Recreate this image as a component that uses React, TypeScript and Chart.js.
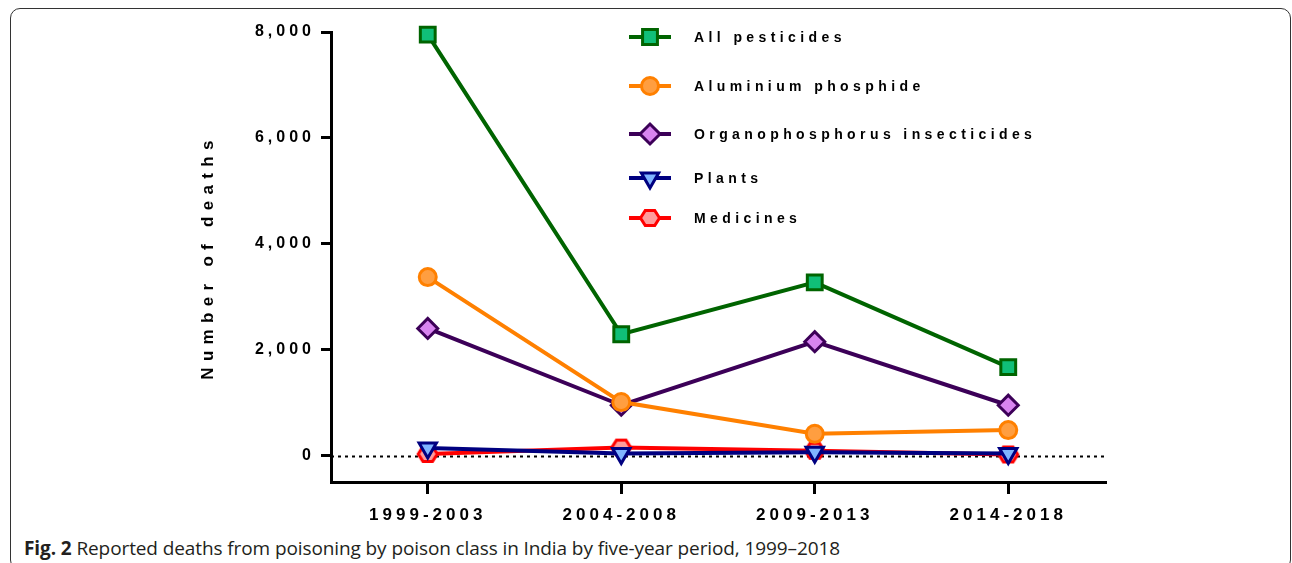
import React, { useEffect, useRef } from "react";
import { Chart, registerables } from "chart.js";
import { drawPoint } from "chart.js/helpers";

Chart.register(...registerables);

const periods = ["1999-2003", "2004-2008", "2009-2013", "2014-2018"];
const allPesticides = [7950, 2290, 3270, 1670];
const aluminiumPhosphide = [3370, 1010, 410, 480];
const organophosphorus = [2400, 950, 2150, 950];
const plants = [140, 40, 60, 40];
const medicines = [30, 150, 90, 20];
const yTickValues = [0, 2000, 4000, 6000, 8000];
const yAxisTitle = "Number of deaths";
const seriesNames = [
  "All pesticides",
  "Aluminium phosphide",
  "Organophosphorus insecticides",
  "Plants",
  "Medicines",
];

const FONT = "'Liberation Sans', Arial, sans-serif";

function makeHexagon(stroke: string, fill: string) {
  const c = document.createElement("canvas");
  c.width = 24;
  c.height = 20;
  const g = c.getContext("2d")!;
  const cx = 12, cy = 10, rx = 9.5, ry = 7.5;
  g.beginPath();
  g.moveTo(cx - rx, cy);
  g.lineTo(cx - rx / 2, cy - ry);
  g.lineTo(cx + rx / 2, cy - ry);
  g.lineTo(cx + rx, cy);
  g.lineTo(cx + rx / 2, cy + ry);
  g.lineTo(cx - rx / 2, cy + ry);
  g.closePath();
  g.fillStyle = fill;
  g.fill();
  g.lineWidth = 3;
  g.strokeStyle = stroke;
  g.stroke();
  return c;
}

export default function App() {
  const ref = useRef<HTMLCanvasElement | null>(null);

  useEffect(() => {
    const canvas = ref.current!;
    const hex = makeHexagon("#FF0000", "#FF9C9C");

    const styles = [
      { line: "#006400", fill: "#10BF78", point: "rect", radius: 10.5, rotation: 0 },
      { line: "#FF8000", fill: "#FF9E40", point: "circle", radius: 8.5, rotation: 0 },
      { line: "#3C0058", fill: "#D884F0", point: "rectRot", radius: 10, rotation: 0 },
      { line: "#000080", fill: "#80B4FF", point: "triangle", radius: 10, rotation: 180 },
      { line: "#FF0000", fill: "#FF9C9C", point: hex as any, radius: 9, rotation: 0 },
    ];
    const values = [allPesticides, aluminiumPhosphide, organophosphorus, plants, medicines];

    const spacingPlugin = {
      id: "spacing",
      beforeUpdate(chart: any) {
        chart.ctx.letterSpacing = "4px";
      },
      beforeDraw(chart: any) {
        chart.ctx.letterSpacing = "4px";
      },
    };

    const zeroLinePlugin = {
      id: "zeroLine",
      beforeDatasetsDraw(chart: any) {
        const { ctx, chartArea, scales } = chart;
        const y = Math.round(scales.y.getPixelForValue(0)) + 0.5;
        ctx.save();
        ctx.strokeStyle = "#000";
        ctx.lineWidth = 2;
        ctx.setLineDash([3, 4]);
        ctx.beginPath();
        ctx.moveTo(chartArea.left, y);
        ctx.lineTo(chartArea.right, y);
        ctx.stroke();
        ctx.restore();
      },
    };

    const axisTitlePlugin = {
      id: "axisTitle",
      afterDraw(chart: any) {
        const { ctx, chartArea } = chart;
        ctx.save();
        ctx.translate(208, (chartArea.top + chartArea.bottom) / 2 + 3);
        ctx.rotate(-Math.PI / 2);
        ctx.font = `bold 17px ${FONT}`;
        (ctx as any).letterSpacing = "6.3px";
        ctx.fillStyle = "#000";
        ctx.textAlign = "center";
        ctx.textBaseline = "middle";
        ctx.fillText(yAxisTitle, 3, 0);
        ctx.restore();
      },
    };

    const legendPlugin = {
      id: "customLegend",
      afterDraw(chart: any) {
        const ctx = chart.ctx;
        const rows = [37, 86, 134, 178, 218];
        ctx.save();
        styles.forEach((s, i) => {
          const y = rows[i];
          ctx.strokeStyle = s.line;
          ctx.lineWidth = 4;
          ctx.setLineDash([]);
          ctx.beginPath();
          ctx.moveTo(629, y);
          ctx.lineTo(671, y);
          ctx.stroke();
          ctx.fillStyle = s.fill;
          ctx.strokeStyle = s.line;
          ctx.lineWidth = 3;
          drawPoint(ctx, {
            pointStyle: s.point,
            radius: s.radius,
            rotation: s.rotation,
            borderWidth: 3,
          } as any, 650, y);
          ctx.fillStyle = "#000";
          ctx.font = `bold 14px ${FONT}`;
          (ctx as any).letterSpacing = "4.4px";
          ctx.textBaseline = "middle";
          ctx.textAlign = "left";
          ctx.fillText(seriesNames[i], 694, y + 1);
        });
        ctx.restore();
      },
    };

    const chart = new Chart(canvas, {
      type: "line",
      data: {
        labels: periods,
        datasets: values.map((v, i) => ({
          label: seriesNames[i],
          data: v,
          borderColor: styles[i].line,
          backgroundColor: styles[i].fill,
          borderWidth: 4,
          pointStyle: styles[i].point as any,
          pointRadius: styles[i].radius,
          pointHoverRadius: styles[i].radius,
          pointRotation: styles[i].rotation,
          pointBorderWidth: 3,
          pointBorderColor: styles[i].line,
          pointBackgroundColor: styles[i].fill,
          tension: 0,
          fill: false,
          clip: false as any,
        })),
      },
      options: {
        responsive: false,
        animation: false,
        events: [],
        layout: { padding: { left: 0, top: 32, right: 187, bottom: 0 } },
        plugins: {
          legend: { display: false },
          tooltip: { enabled: false },
          title: { display: false },
        },
        scales: {
          x: {
            type: "category",
            offset: true,
            grid: {
              display: true,
              drawOnChartArea: false,
              drawTicks: true,
              tickLength: 12,
              lineWidth: 3,
              color: "#000",
            },
            border: { display: true, color: "#000", width: 3 },
            ticks: {
              color: "#000",
              font: { family: FONT, size: 17, weight: "bold" },
              padding: 11,
              maxRotation: 0,
            },
            afterFit: (s: any) => {
              s.height = 48;
            },
          },
          y: {
            min: -500,
            max: 8000,
            afterBuildTicks: (s: any) => {
              s.ticks = yTickValues.map((v) => ({ value: v }));
            },
            grid: {
              display: true,
              drawOnChartArea: false,
              drawTicks: true,
              tickLength: 10,
              lineWidth: 3,
              color: "#000",
            },
            border: { display: true, color: "#000", width: 3 },
            ticks: {
              color: "#000",
              font: { family: FONT, size: 16, weight: "bold" },
              padding: 6,
              callback: (v: any) => Number(v).toLocaleString("en-US"),
            },
            title: { display: false },
            afterFit: (s: any) => {
              s.width = 331;
            },
          },
        },
      },
      plugins: [spacingPlugin, zeroLinePlugin, axisTitlePlugin, legendPlugin],
    });

    return () => chart.destroy();
  }, []);

  return (
    <div
      style={{
        position: "fixed",
        left: 0,
        top: 0,
        width: 1292,
        height: 563,
        overflow: "hidden",
        background: "#fff",
      }}
    >
      <div
        style={{
          position: "absolute",
          left: 10,
          top: 8,
          width: 1279,
          height: 560,
          border: "1.5px solid #333",
          borderRadius: 10,
        }}
      />
      <canvas
        ref={ref}
        width={1292}
        height={530}
        style={{ position: "absolute", left: 0, top: 0, width: 1292, height: 530 }}
      />
      <div
        style={{
          position: "absolute",
          left: 24,
          top: 537,
          fontFamily: "'Open Sans', sans-serif",
          fontSize: 19,
          letterSpacing: "-0.1px",
          lineHeight: "22px",
          color: "#231f20",
          whiteSpace: "nowrap",
        }}
      >
        <b>Fig. 2</b> Reported deaths from poisoning by poison class in India by five-year period, 1999–2018
      </div>
    </div>
  );
}
